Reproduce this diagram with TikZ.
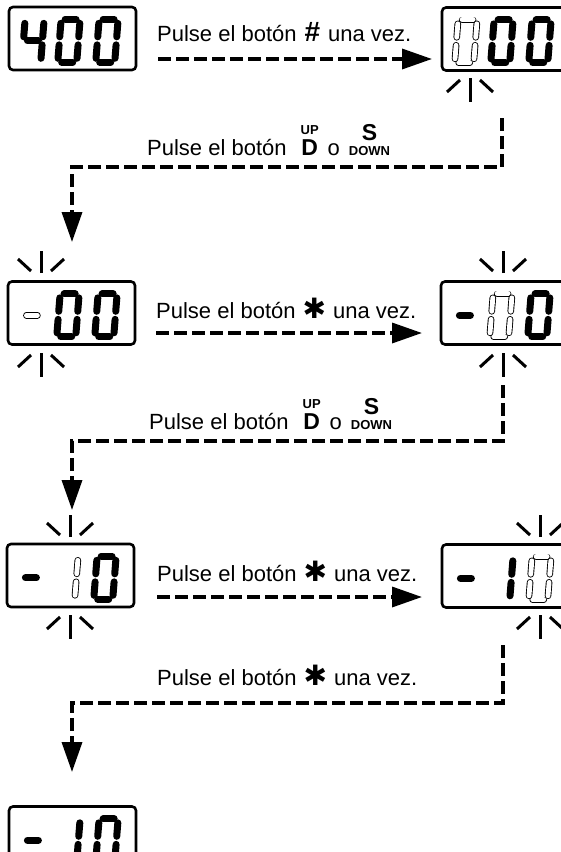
\documentclass[tikz,border=0pt]{standalone}
\usepackage{fontspec}
\setmainfont{Liberation Sans}
\newfontfamily\symfont{DejaVu Sans}
\usetikzlibrary{arrows.meta}

\def\lcdsega{(4,43) -- (15,43)}
\def\lcdsegb{(19,39) -- (19,25.5)}
\def\lcdsegc{(19,17.5) -- (19,4)}
\def\lcdsegd{(4,0) -- (15,0)}
\def\lcdsege{(0,4) -- (0,17.5)}
\def\lcdsegf{(0,25.5) -- (0,39)}
\def\lcdsegg{(4,21.5) -- (15,21.5)}

\newcommand{\lcddigit}[4]{%
  \begin{scope}[shift={(#1.south west)}, shift={(#2,9)}, xslant=0.08]
    \foreach \s in {#4} {\draw[#3] \csname lcdseg\s\endcsname;}
  \end{scope}}

\newcommand{\blinkup}[2]{%
  \draw[spark] (#1,#2+8) -- (#1,#2+30);
  \draw[spark] (#1-10,#2+10) -- (#1-23,#2+22);
  \draw[spark] (#1+10,#2+10) -- (#1+23,#2+22);}
\newcommand{\blinkdown}[2]{%
  \draw[spark] (#1,#2-8) -- (#1,#2-32);
  \draw[spark] (#1-10,#2-10) -- (#1-23,#2-22);
  \draw[spark] (#1+10,#2-10) -- (#1+23,#2-22);}

\newcommand{\hashkey}{\hspace{8pt}{\fontsize{28}{28}\bfseries\#}\hspace{8pt}}
\newcommand{\splatkey}{\hspace{7pt}{\symfont\fontsize{28}{28}\selectfont ✱}\hspace{7pt}}
\newcommand{\upkey}{\hspace{14pt}\shortstack{\fontsize{13}{13}\bfseries UP\\[2pt]\fontsize{23}{23}\bfseries D}\hspace{9pt}}
\newcommand{\downkey}{\hspace{9pt}\shortstack{\fontsize{23}{23}\bfseries S\\[2pt]\fontsize{13}{13}\bfseries DOWN}}

\tikzset{
  lcd/.style={draw, line width=2.6pt, rounded corners=4pt, minimum width=127pt,
    minimum height=63pt, inner sep=0pt},
  segon/.style={line width=7pt, line cap=round},
  segoff/.style={line width=0.9pt, double=white, double distance=4.8pt, line cap=round},
  spark/.style={line width=3pt},
  flow/.style={line width=3.5pt, dash pattern=on 13pt off 5pt,
    -{Triangle[length=30pt, width=20pt]}},
  lbl/.style={inner sep=0pt, font=\fontsize{22}{26}\selectfont}
}

\begin{document}
\begin{tikzpicture}[x=1pt, y=1pt]
  \useasboundingbox (0,0) rectangle (561,-852);
  \clip (0,0) rectangle (561,-852);

  \node[lcd] (d1) at (72.5,-38.5) {};
  \node[lcd] (d2) at (505.5,-39) {};
  \node[lcd] (d3) at (71.5,-313) {};
  \node[lcd] (d4) at (504.5,-313) {};
  \node[lcd] (d5) at (70.5,-575.5) {};
  \node[lcd] (d6) at (505.5,-576) {};
  \node[lcd] (d7) at (72.5,-838) {};

  \lcddigit{d1}{14}{segon}{b,c,f,g}
  \lcddigit{d1}{50}{segon}{a,b,c,d,e,f}
  \lcddigit{d1}{88}{segon}{a,b,c,d,e,f}
  \lcddigit{d2}{14}{segoff}{a,b,c,d,e,f}
  \lcddigit{d2}{50}{segon}{a,b,c,d,e,f}
  \lcddigit{d2}{88}{segon}{a,b,c,d,e,f}
  \lcddigit{d3}{14}{segoff}{g}
  \lcddigit{d3}{50}{segon}{a,b,c,d,e,f}
  \lcddigit{d3}{88}{segon}{a,b,c,d,e,f}
  \lcddigit{d4}{14}{segon}{g}
  \lcddigit{d4}{50}{segoff}{a,b,c,d,e,f}
  \lcddigit{d4}{88}{segon}{a,b,c,d,e,f}
  \lcddigit{d5}{14}{segon}{g}
  \lcddigit{d5}{50}{segoff}{b,c}
  \lcddigit{d5}{88}{segon}{a,b,c,d,e,f}
  \lcddigit{d6}{14}{segon}{g}
  \lcddigit{d6}{50}{segon}{b,c}
  \lcddigit{d6}{88}{segoff}{a,b,c,d,e,f}
  \lcddigit{d7}{14}{segon}{g}
  \lcddigit{d7}{50}{segon}{b,c}
  \lcddigit{d7}{88}{segon}{a,b,c,d,e,f}

  \blinkup{470}{-8}
  \blinkdown{470}{-70}
  \blinkup{41}{-281}
  \blinkdown{41}{-345}
  \blinkup{503}{-281}
  \blinkdown{503}{-345}
  \blinkup{70}{-545}
  \blinkdown{70}{-607}
  \blinkup{540}{-545}
  \blinkdown{540}{-607}

  \node[lbl, anchor=base west] (t1) at (157,-41) {Pulse el botón\hashkey una vez.};
  \node[lbl, anchor=base west] (t2) at (147,-155) {Pulse el botón\upkey o\downkey};
  \node[lbl, anchor=base west] (t3) at (156,-318) {Pulse el botón\splatkey una vez.};
  \node[lbl, anchor=base west] (t4) at (149,-429) {Pulse el botón\upkey o\downkey};
  \node[lbl, anchor=base west] (t5) at (157,-581) {Pulse el botón\splatkey una vez.};
  \node[lbl, anchor=base west] (t6) at (157,-685) {Pulse el botón\splatkey una vez.};

  \coordinate (a1s) at (158,-59);
  \coordinate (a1e) at (432,-59);
  \coordinate (a3s) at (156,-333);
  \coordinate (a3e) at (422,-333);
  \coordinate (a5s) at (157,-597);
  \coordinate (a5e) at (422,-597);
  \draw[flow] (a1s) -- (a1e);
  \draw[flow] (a3s) -- (a3e);
  \draw[flow] (a5s) -- (a5e);

  \coordinate (c2s) at (502,-118);
  \coordinate (k2) at (72,-167);
  \coordinate (c2e) at (72,-242);
  \coordinate (c4s) at (503,-385);
  \coordinate (k4) at (72,-441);
  \coordinate (c4e) at (72,-510);
  \coordinate (c6s) at (503,-645);
  \coordinate (k6) at (72,-703);
  \coordinate (c6e) at (72,-772);
  \draw[flow] (c2s) |- (k2) -- (c2e);
  \draw[flow] (c4s) |- (k4) -- (c4e);
  \draw[flow] (c6s) |- (k6) -- (c6e);
\end{tikzpicture}
\end{document}
